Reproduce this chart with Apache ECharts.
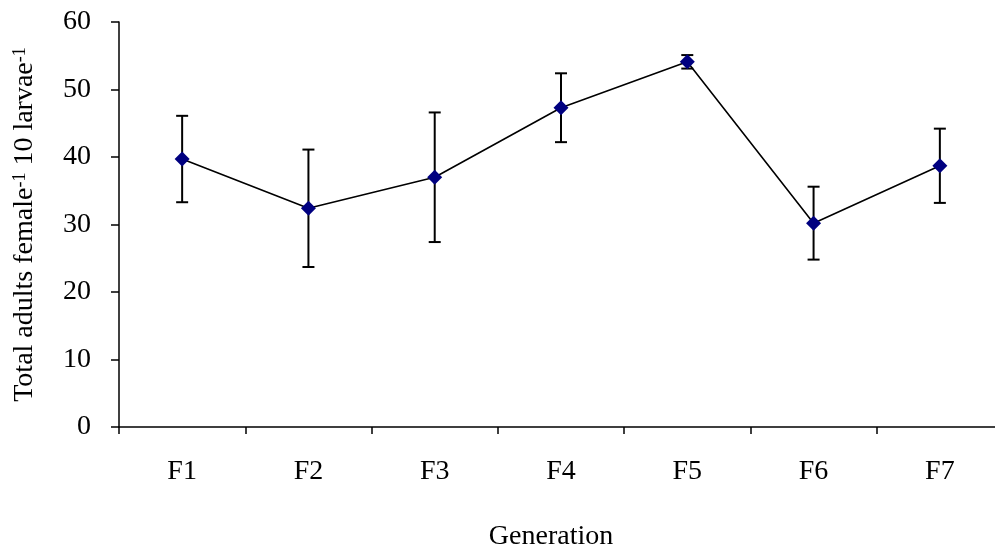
<!DOCTYPE html>
<html>
<head>
<meta charset="utf-8">
<script src="https://cdn.jsdelivr.net/npm/echarts@6/dist/echarts.min.js"></script>
<style>
  html, body { margin: 0; padding: 0; background: #fff; }
  #chart { width: 995px; height: 550px; }
</style>
</head>
<body>
<div id="chart"></div>
<script>
var generations = ['F1', 'F2', 'F3', 'F4', 'F5', 'F6', 'F7'];
var meanAdults = [39.7, 32.4, 37.0, 47.3, 54.1, 30.2, 38.7];
var errAdults = [6.4, 8.7, 9.6, 5.1, 1.0, 5.4, 5.5];
var yTicks = [0, 60, 10]; // min, max, step

var chart = echarts.init(document.getElementById('chart'));

// error bars: [index, low, high]
var errData = meanAdults.map(function (m, i) {
    return [i, m - errAdults[i], m + errAdults[i]];
});

function renderErr(params, api) {
    var x = api.value(0);
    var lo = api.coord([x, api.value(1)]);
    var hi = api.coord([x, api.value(2)]);
    var cap = 6;
    var st = { stroke: '#000', lineWidth: 2 };
    return {
        type: 'group',
        children: [
            { type: 'line', shape: { x1: hi[0], y1: hi[1], x2: lo[0], y2: lo[1] }, style: st },
            { type: 'line', shape: { x1: hi[0] - cap, y1: hi[1], x2: hi[0] + cap, y2: hi[1] }, style: st },
            { type: 'line', shape: { x1: lo[0] - cap, y1: lo[1], x2: lo[0] + cap, y2: lo[1] }, style: st }
        ]
    };
}

var font = '"Liberation Serif", "Times New Roman", serif';

chart.setOption({
    animation: false,
    backgroundColor: '#fff',
    textStyle: { fontFamily: font, color: '#000' },
    grid: { left: 119, top: 22, width: 884, bottom: 123, outerBoundsMode: 'none', containLabel: false },
    xAxis: {
        type: 'category',
        data: generations,
        boundaryGap: true,
        name: 'Generation',
        nameLocation: 'middle',
        nameGap: 96,
        nameTextStyle: { fontFamily: font, fontSize: 28, color: '#000', padding: [0, 20, 0, 0] },
        axisLine: { lineStyle: { color: '#000', width: 1.5 } },
        axisTick: { show: true, length: 7, lineStyle: { color: '#000', width: 1.5 } },
        axisLabel: { fontFamily: font, fontSize: 28, color: '#000', margin: 31 },
        splitLine: { show: false }
    },
    yAxis: {
        type: 'value',
        min: yTicks[0],
        max: yTicks[1],
        interval: yTicks[2],
        name: '{n|Total adults female}{s|-1}{n| 10 larvae}{s|-1}',
        nameLocation: 'middle',
        nameGap: 80,
        nameRotate: 90,
        nameTextStyle: {
            fontFamily: font, fontSize: 28, color: '#000',
            rich: {
                n: { fontFamily: font, fontSize: 28, color: '#000' },
                s: { fontFamily: font, fontSize: 18, color: '#000', verticalAlign: 'top' }
            }
        },
        axisLine: { show: true, lineStyle: { color: '#000', width: 1.5 } },
        axisTick: { show: true, length: 8, lineStyle: { color: '#000', width: 1.5 } },
        axisLabel: { fontFamily: font, fontSize: 28, color: '#000', margin: 28 },
        splitLine: { show: false }
    },
    series: [
        {
            type: 'custom',
            data: errData,
            renderItem: renderErr,
            encode: { x: 0, y: [1, 2] },
            z: 1
        },
        {
            type: 'line',
            data: meanAdults,
            symbol: 'diamond',
            symbolSize: 15,
            lineStyle: { color: '#000', width: 1.6 },
            itemStyle: { color: '#000080' },
            z: 2
        }
    ]
});
</script>
</body>
</html>
